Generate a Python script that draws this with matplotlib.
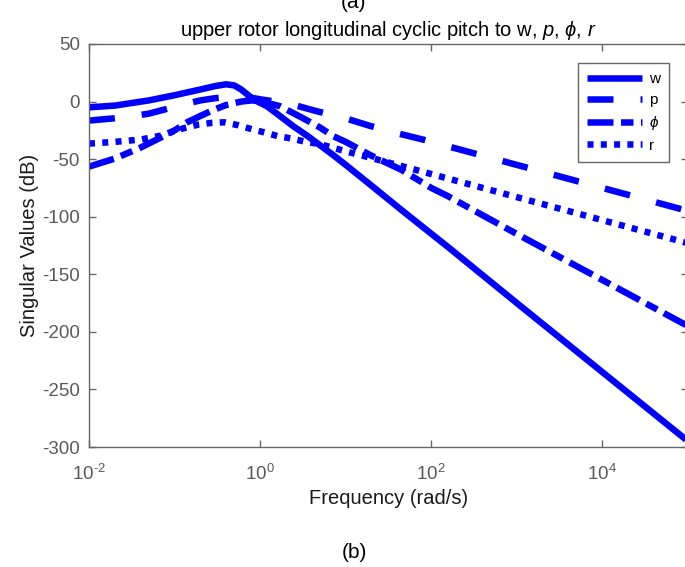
import numpy as np
import matplotlib
matplotlib.use('Agg')
import matplotlib.pyplot as plt
from matplotlib.ticker import FixedLocator, NullLocator, FuncFormatter

plt.rcParams['font.family'] = ['Liberation Sans', 'DejaVu Sans']
plt.rcParams['mathtext.fontset'] = 'custom'
plt.rcParams['mathtext.rm'] = 'Liberation Sans'
plt.rcParams['mathtext.it'] = 'Liberation Sans:italic'
plt.rcParams['lines.scale_dashes'] = False
plt.rcParams['axes.unicode_minus'] = False

# singular values (rad/s, dB)
f_w = [0.01, 0.02, 0.05, 0.1, 0.2, 0.3, 0.4, 0.5, 0.6, 0.7, 0.85, 1.2, 1.6,
       2.45, 3.6, 7, 10, 20, 50, 155, 1e3, 1e4, 1e5]
sv_w = [-5, -3.5, 1, 5.5, 10.5, 13.5, 15, 14, 10.5, 6.5, 1.5, -4, -11,
        -21.5, -30, -46, -55, -73, -97, -126, -175, -235, -295]

f_p = [0.01, 0.02, 0.03, 0.05, 0.08, 0.12, 0.2, 0.3, 0.5, 0.7, 1, 1.5, 2.4,
       4.6, 9.4, 19, 40, 80, 1e3, 1e4, 1e5]
sv_p = [-16.5, -14.5, -13, -10.5, -6.5, -3, 1, 3, 4.5, 4, 2, 0, -2.6,
        -8.4, -14, -21, -27.5, -33, -55, -75, -95]

f_phi = [0.01, 0.02, 0.04, 0.07, 0.1, 0.14, 0.2, 0.28, 0.4, 0.6, 0.8, 1, 1.7,
         3, 5, 7.1, 10, 20, 44, 100, 155, 1e3, 1e4, 1e5]
sv_phi = [-56.5, -49.5, -40, -31, -25, -18, -12.5, -7.5, -3, 0, 1, 0.5, -4,
          -13.5, -22.5, -30, -35, -47, -59, -75, -82, -115, -155, -195]

f_r = [0.01, 0.02, 0.04, 0.07, 0.1, 0.13, 0.19, 0.27, 0.38, 0.55, 0.8, 1.15,
       1.6, 2.3, 3.2, 5, 11, 20, 80, 1e3, 1e4, 1e5]
sv_r = [-36.5, -35, -33, -29.5, -25.5, -23, -20, -18.5, -18, -20.5, -24, -27,
        -30, -32, -34.5, -37, -44, -49, -61, -83, -103, -123]

labels = ['w', 'p', r'$\phi$', 'r']
yticks = [50, 0, -50, -100, -150, -200, -250, -300]
xticks = [1e-2, 1e0, 1e2, 1e4]

blue = '#0000ff'
px = 0.72  # pixels -> points at 100 dpi


def dec_label(v, pos):
    # MATLAB style 10^-2 with a plain hyphen
    e = int(round(np.log10(v)))
    return r'$\mathdefault{10^{\text{%d}}}$' % e


fig = plt.figure(figsize=(6.85, 5.67), dpi=100)
W, H = 685, 567
ax = fig.add_axes([89 / W, 1 - 447 / H, (688 - 89) / W, (447 - 44) / H])

lw = 6.5 * px
ax.semilogx(f_w, sv_w, color=blue, lw=lw, solid_capstyle='butt', label=labels[0])
ax.semilogx(f_p, sv_p, color=blue, lw=lw, dashes=(26 * px, 27 * px), label=labels[1])
ax.semilogx(f_phi, sv_phi, color=blue, lw=lw,
            dashes=(26 * px, 7.5 * px, 12.5 * px, 7.5 * px), label=labels[2])
ax.semilogx(f_r, sv_r, color=blue, lw=lw, dashes=(6 * px, 7.3 * px), label=labels[3])

ax.set_xlim(1e-2, 1e5)
ax.set_ylim(-300, 50)
ax.xaxis.set_major_locator(FixedLocator(xticks))
ax.xaxis.set_minor_locator(NullLocator())
ax.xaxis.set_major_formatter(FuncFormatter(dec_label))
ax.set_yticks(yticks)

grey = '#666666'
for s in ax.spines.values():
    s.set_color(grey)
    s.set_linewidth(1)
ax.tick_params(direction='in', top=True, right=True, length=5, width=1,
               color=grey, labelcolor='#5a5a5a', labelsize=13.5)
ax.tick_params(axis='y', pad=6.5)
ax.tick_params(axis='x', pad=12)

ax.set_xlabel('Frequency (rad/s)', fontsize=14.5, color='#1a1a1a', labelpad=4)
ax.set_ylabel('Singular Values (dB)', fontsize=14.5, color='#1a1a1a', labelpad=2)
ax.set_title(r'upper rotor longitudinal cyclic pitch to w, $\mathit{p}$, $\phi$, $\mathit{r}$',
             fontsize=14.5, pad=6)

leg = ax.legend(loc='upper right', bbox_to_anchor=(669 / W, 1 - 63 / H),
                bbox_transform=fig.transFigure, fontsize=11, handlelength=3.6,
                handletextpad=0.45, borderpad=0.6, labelspacing=0.45,
                fancybox=False, framealpha=1, borderaxespad=0)
leg.get_frame().set_edgecolor(grey)
leg.get_frame().set_linewidth(1)

fig.text(354 / W, 1 - 12 / H, '(a)', ha='center', va='bottom', fontsize=15)
fig.text(354 / W, 1 - 552 / H, '(b)', ha='center', va='center', fontsize=15)

fig.savefig('out.png', dpi=100)
